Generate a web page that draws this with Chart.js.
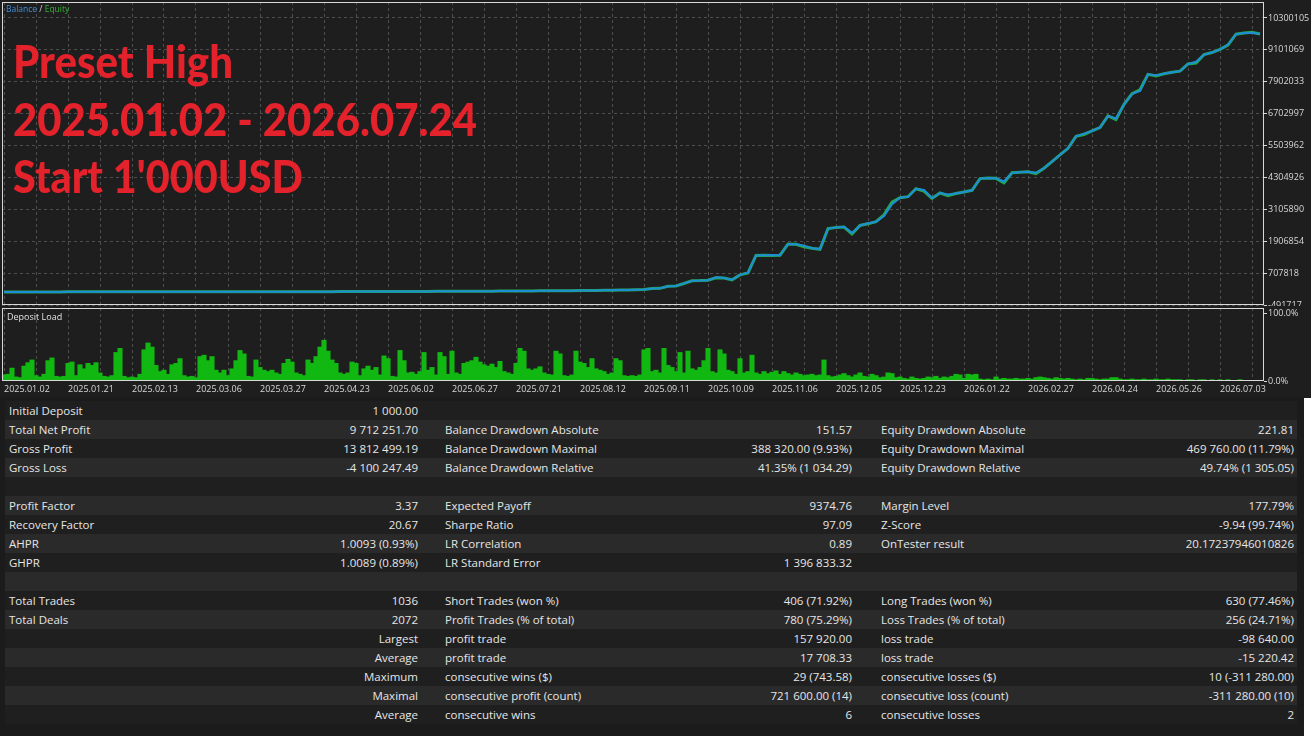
<!DOCTYPE html>
<html>
<head>
<meta charset="utf-8">
<title>Preset High</title>
<script src="https://cdn.jsdelivr.net/npm/chart.js@4.4.1/dist/chart.umd.min.js"></script>
<style>
html, body { margin: 0; padding: 0; background: #1b1b1b; width: 1311px; height: 736px; overflow: hidden; }
canvas { position: absolute; left: 0; }
#main { top: 0; }
#load { top: 306px; }
.legend { position: absolute; left: 6px; top: 3px; font: 8.5px 'Open Sans', sans-serif; color: #cfcfcf; }
.legend .b { color: #3d8fdc; }
.legend .e { color: #35b035; }
.panel-name { position: absolute; left: 7px; top: 310px; font: 9px 'Open Sans', sans-serif; color: #e0e0e0; }
.title { position: absolute; left: 13px; font: 900 46px 'Lato', sans-serif; color: #e3222b; white-space: nowrap; line-height: 1.2; transform-origin: 0 0; }
#table { position: absolute; left: 5px; top: 401px; width: 1292px; }
.row { position: absolute; left: 0; width: 1292px; height: 19px; font: 11.5px 'Open Sans', sans-serif; color: #e6e6e6; line-height: 19px; }
.row span { position: absolute; top: 0; white-space: nowrap; }
.c1 { left: 4px; }
.v1 { left: 0; width: 413px; text-align: right; }
.c2 { left: 440px; }
.v2 { left: 0; width: 847px; text-align: right; }
.c3 { left: 876px; }
.v3 { left: 0; width: 1289px; text-align: right; }
#edge { position: absolute; left: 1304px; top: 398px; width: 7px; height: 338px; background: #ffffff; }
</style>
</head>
<body>
<canvas id="main" width="1311" height="312"></canvas>
<canvas id="load" width="1311" height="91"></canvas>
<div class="legend"><span class="b">Balance</span> / <span class="e">Equity</span></div>
<div class="panel-name">Deposit Load</div>
<div class="title" style="top:33px">Preset High</div>
<div class="title" style="top:91px">2025.01.02 - 2026.07.24</div>
<div class="title" style="top:148px">Start 1'000USD</div>
<div id="table"></div>
<div id="edge"></div>
<script>
// axis labels
const xLabels = ['2025.01.02', '2025.01.21', '2025.02.13', '2025.03.06', '2025.03.27', '2025.04.23', '2025.06.02',
  '2025.06.27', '2025.07.21', '2025.08.12', '2025.09.11', '2025.10.09', '2025.11.06', '2025.12.05', '2025.12.23',
  '2026.01.22', '2026.02.27', '2026.04.24', '2026.05.26', '2026.07.03'];
const yTicks = [-491717, 707818, 1906854, 3105890, 4304926, 5503962, 6702997, 7902033, 9101069, 10300105];
const loadTicks = [0, 100];

// balance / equity, one value every 2 x-units
const balance = [1000, 1050, 1150, 1200, 1300, 1400, 1550, 1600, 1750, 1900,
  2000, 2150, 2300, 2400, 2600, 2800, 2900, 3100, 3400, 3600,
  3800, 4000, 4200, 4400, 4600, 4900, 5200, 5400, 5700, 6000,
  6400, 6700, 7100, 7400, 7800, 8200, 8600, 9000, 9500, 10000,
  10600, 11000, 11600, 12200, 12900, 13500, 14200, 15000, 15800, 16600,
  17400, 18300, 19200, 20100, 21200, 22300, 23400, 24600, 25800, 27100,
  28400, 29800, 31200, 32800, 34400, 36100, 37900, 39800, 41700, 43800,
  46000, 48300, 50700, 53200, 55800, 60000, 65000, 70000, 75000, 82000,
  90000, 130000, 135000, 215000, 225000, 320000, 420000, 425000, 440000, 550000,
  520000, 460000, 640000, 720000, 1370000, 1380000, 1390000, 1380000, 1800000, 1790000,
  1740000, 1640000, 1620000, 2380000, 2420000, 2450000, 2220000, 2500000, 2580000, 2640000,
  2850000, 3300000, 3540000, 3580000, 3880000, 3830000, 3520000, 3720000, 3660000, 3700000,
  3760000, 3820000, 4260000, 4280000, 4270000, 4150000, 4480000, 4500000, 4520000, 4480000,
  4650000, 4900000, 5150000, 5400000, 5850000, 5950000, 6050000, 6180000, 6620000, 6520000,
  7050000, 7450000, 7560000, 8180000, 8150000, 8200000, 8260000, 8300000, 8570000, 8650000,
  8920000, 9000000, 9120000, 9300000, 9690000, 9730000, 9740000, 9700000];
const equity = [1000, 1050, 1150, 1200, 1300, 1400, 1550, 1600, 1750, 1900,
  2000, 2150, 2300, 2400, 2600, 2800, 2900, 3100, 3400, 3600,
  3800, 4000, 4200, 4400, 4600, 4900, 5200, 5400, 5700, 6000,
  6400, 6700, 7100, 7400, 7800, 8200, 8600, 9000, 9500, 10000,
  10600, 11000, 11600, 12200, 12900, 13500, 14200, 15000, 15800, 16600,
  17400, 18300, 19200, 20100, 21200, 22300, 23400, 24600, 25800, 27100,
  28400, 29800, 31200, 32800, 34400, 36100, 37900, 39800, 41700, 43800,
  46000, 48300, 50700, 53200, 55800, 60000, 65000, 70000, 75000, 82000,
  90000, 128000, 135000, 212000, 225000, 318000, 420000, 425000, 440000, 530000,
  520000, 455000, 640000, 715000, 1370000, 1380000, 1370000, 1380000, 1800000, 1790000,
  1700000, 1640000, 1600000, 2380000, 2420000, 2440000, 2180000, 2500000, 2560000, 2640000,
  2900000, 3380000, 3540000, 3580000, 3880000, 3790000, 3520000, 3720000, 3620000, 3700000,
  3760000, 3820000, 4260000, 4280000, 4270000, 4100000, 4480000, 4500000, 4520000, 4450000,
  4650000, 4900000, 5150000, 5400000, 5850000, 5920000, 6050000, 6180000, 6620000, 6480000,
  7050000, 7450000, 7600000, 8180000, 8120000, 8200000, 8260000, 8300000, 8570000, 8600000,
  8920000, 9000000, 9120000, 9280000, 9690000, 9730000, 9760000, 9700000];

// deposit load %, one bar per x-unit
const depositLoad = [9, 10, 19, 6, 5, 22, 27, 31, 8, 6,
  10, 30, 34, 7, 6, 7, 26, 28, 8, 24,
  18, 26, 23, 27, 12, 7, 6, 8, 42, 48,
  7, 5, 6, 5, 10, 46, 56, 50, 23, 14,
  16, 10, 24, 26, 33, 8, 6, 7, 5, 36,
  38, 30, 36, 16, 12, 16, 8, 18, 30, 45,
  40, 7, 6, 31, 20, 16, 14, 16, 12, 10,
  26, 32, 28, 12, 10, 8, 31, 26, 36, 50,
  60, 44, 31, 26, 12, 10, 12, 28, 26, 8,
  18, 22, 16, 20, 9, 37, 33, 7, 6, 45,
  30, 12, 13, 10, 14, 42, 16, 20, 9, 42,
  36, 10, 44, 12, 10, 26, 28, 30, 35, 28,
  24, 22, 25, 20, 29, 14, 12, 10, 26, 48,
  44, 18, 16, 18, 21, 12, 10, 9, 44, 40,
  8, 7, 9, 44, 28, 26, 20, 33, 18, 16,
  14, 10, 12, 33, 30, 8, 7, 8, 7, 9,
  46, 48, 14, 16, 12, 48, 23, 20, 14, 42,
  12, 44, 18, 16, 20, 30, 48, 14, 12, 46,
  40, 16, 14, 10, 33, 12, 14, 38, 12, 10,
  14, 11, 13, 15, 10, 14, 11, 9, 12, 10,
  8, 9, 10, 8, 9, 31, 8, 6, 7, 9,
  11, 8, 6, 9, 12, 7, 6, 10, 8, 5,
  6, 12, 11, 5, 6, 4, 3, 6, 4, 3,
  4, 6, 5, 7, 4, 6, 5, 7, 10, 9,
  4, 10, 9, 10, 3, 2, 3, 2, 6, 3,
  4, 3, 3, 4, 3, 3, 4, 3, 5, 6,
  5, 4, 3, 5, 4, 3, 4, 3, 2, 3,
  2, 4, 4, 3, 2, 3, 3, 5, 5, 3,
  2, 2, 3, 2, 2, 3, 2, 2, 3, 2,
  2, 3, 2, 2, 2, 1, 2, 2, 1, 2,
  2, 1, 2, 1, 2, 1, 2, 1, 1, 2,
  1, 1, 1, 1, 1];

// report rows: label, value, label, value, label, value
const stats = [
  ['Initial Deposit', '1 000.00', '', '', '', ''],
  ['Total Net Profit', '9 712 251.70', 'Balance Drawdown Absolute', '151.57', 'Equity Drawdown Absolute', '221.81'],
  ['Gross Profit', '13 812 499.19', 'Balance Drawdown Maximal', '388 320.00 (9.93%)', 'Equity Drawdown Maximal', '469 760.00 (11.79%)'],
  ['Gross Loss', '-4 100 247.49', 'Balance Drawdown Relative', '41.35% (1 034.29)', 'Equity Drawdown Relative', '49.74% (1 305.05)'],
  ['', '', '', '', '', ''],
  ['Profit Factor', '3.37', 'Expected Payoff', '9374.76', 'Margin Level', '177.79%'],
  ['Recovery Factor', '20.67', 'Sharpe Ratio', '97.09', 'Z-Score', '-9.94 (99.74%)'],
  ['AHPR', '1.0093 (0.93%)', 'LR Correlation', '0.89', 'OnTester result', '20.17237946010826'],
  ['GHPR', '1.0089 (0.89%)', 'LR Standard Error', '1 396 833.32', '', ''],
  ['', '', '', '', '', ''],
  ['Total Trades', '1036', 'Short Trades (won %)', '406 (71.92%)', 'Long Trades (won %)', '630 (77.46%)'],
  ['Total Deals', '2072', 'Profit Trades (% of total)', '780 (75.29%)', 'Loss Trades (% of total)', '256 (24.71%)'],
  ['', 'Largest', 'profit trade', '157 920.00', 'loss trade', '-98 640.00'],
  ['', 'Average', 'profit trade', '17 708.33', 'loss trade', '-15 220.42'],
  ['', 'Maximum', 'consecutive wins ($)', '29 (743.58)', 'consecutive losses ($)', '10 (-311 280.00)'],
  ['', 'Maximal', 'consecutive profit (count)', '721 600.00 (14)', 'consecutive loss (count)', '-311 280.00 (10)'],
  ['', 'Average', 'consecutive wins', '6', 'consecutive losses', '2']
];

const gridTicks = [];
for (let i = 0; i <= 312; i += 8) gridTicks.push(i);

const framePlugin = {
  id: 'frame',
  beforeDraw(chart) {
    const { ctx } = chart;
    ctx.save();
    ctx.fillStyle = '#1e1e1e';
    ctx.fillRect(0, 0, chart.width, chart.height);
    ctx.restore();
  },
  afterDraw(chart) {
    const { ctx, chartArea: a } = chart;
    ctx.save();
    ctx.strokeStyle = '#d8d8d8';
    ctx.lineWidth = 1;
    ctx.strokeRect(Math.round(a.left) + 0.5, Math.round(a.top) + 0.5,
      Math.round(a.right - a.left) - 1, Math.round(a.bottom - a.top) - 1);
    ctx.restore();
  }
};

const tickFont = { family: 'Open Sans', size: 9 };

function xScale(showLabels) {
  return {
    type: 'linear',
    min: -0.5,
    max: 315,
    offset: false,
    afterBuildTicks: s => { s.ticks = gridTicks.map(v => ({ value: v })); },
    afterFit: s => { s.height = showLabels ? 15 : 0; s.paddingLeft = 0; s.paddingRight = 0; },
    grid: { color: '#4e4e4e', lineWidth: 1, drawTicks: false, offset: false },
    border: { display: false, dash: [3, 3] },
    ticks: {
      display: showLabels, autoSkip: false, maxRotation: 0, minRotation: 0, align: 'start', padding: 3,
      color: '#d8d8d8', font: tickFont,
      callback: v => (v % 16 === 0 ? xLabels[v / 16] : '')
    }
  };
}

new Chart(document.getElementById('main'), {
  type: 'line',
  data: {
    datasets: [
      {
        label: 'Balance',
        data: balance.map((v, i) => ({ x: i * 2, y: v })),
        borderColor: '#1e8fd6',
        borderWidth: 2,
        pointRadius: 0,
        tension: 0
      },
      {
        label: 'Equity',
        data: equity.map((v, i) => ({ x: i * 2, y: v })),
        borderColor: '#22a84a',
        borderWidth: 3,
        pointRadius: 0,
        tension: 0
      }
    ]
  },
  options: {
    responsive: false,
    animation: false,
    layout: { autoPadding: false, padding: { left: 2, top: 2, right: 0, bottom: 7 } },
    plugins: { legend: { display: false }, tooltip: { enabled: false } },
    scales: {
      x: xScale(false),
      y: {
        type: 'linear',
        position: 'right',
        min: -491717,
        max: 10899623,
        afterBuildTicks: s => { s.ticks = yTicks.map(v => ({ value: v })); },
        afterFit: s => { s.width = 47; s.paddingTop = 0; s.paddingBottom = 0; },
        grid: { color: '#4e4e4e', drawTicks: true, tickLength: 3, tickColor: '#d8d8d8', tickBorderDash: [] },
        border: { display: false, dash: [3, 3] },
        ticks: { color: '#d8d8d8', padding: 1, font: tickFont, callback: v => String(v) }
      }
    }
  },
  plugins: [framePlugin]
});

new Chart(document.getElementById('load'), {
  type: 'bar',
  data: {
    datasets: [{
      label: 'Deposit Load',
      data: depositLoad.map((v, i) => ({ x: i, y: v })),
      backgroundColor: '#12b812',
      borderWidth: 0,
      barThickness: 4.4
    }]
  },
  options: {
    responsive: false,
    animation: false,
    layout: { autoPadding: false, padding: { left: 2, top: 2, right: 0, bottom: 1 } },
    plugins: { legend: { display: false }, tooltip: { enabled: false } },
    scales: {
      x: xScale(true),
      y: {
        type: 'linear',
        position: 'right',
        min: 0,
        max: 107.4,
        afterBuildTicks: s => { s.ticks = loadTicks.map(v => ({ value: v })); },
        afterFit: s => { s.width = 47; s.paddingTop = 0; s.paddingBottom = 0; },
        grid: { display: true, drawOnChartArea: false, drawTicks: true, tickLength: 3, tickColor: '#d8d8d8' },
        border: { display: false },
        ticks: { color: '#d8d8d8', padding: 1, font: tickFont, callback: v => v.toFixed(1) + '%' }
      }
    }
  },
  plugins: [framePlugin]
});

// statistics table
const table = document.getElementById('table');
stats.forEach((r, i) => {
  const row = document.createElement('div');
  row.className = 'row';
  row.style.top = (i * 19) + 'px';
  row.style.background = i % 2 === 0 ? '#1f1f1f' : '#2a2a2a';
  ['c1', 'v1', 'c2', 'v2', 'c3', 'v3'].forEach((cls, j) => {
    const s = document.createElement('span');
    s.className = cls;
    s.textContent = r[j];
    row.appendChild(s);
  });
  table.appendChild(row);
});

// squeeze the big red caption lines to the width they have in the report
const titleWidths = [220, 464, 290];
document.querySelectorAll('.title').forEach((el, i) => {
  const w = el.getBoundingClientRect().width;
  el.style.transform = 'scaleX(' + (titleWidths[i] / w) + ')';
});
</script>
</body>
</html>
